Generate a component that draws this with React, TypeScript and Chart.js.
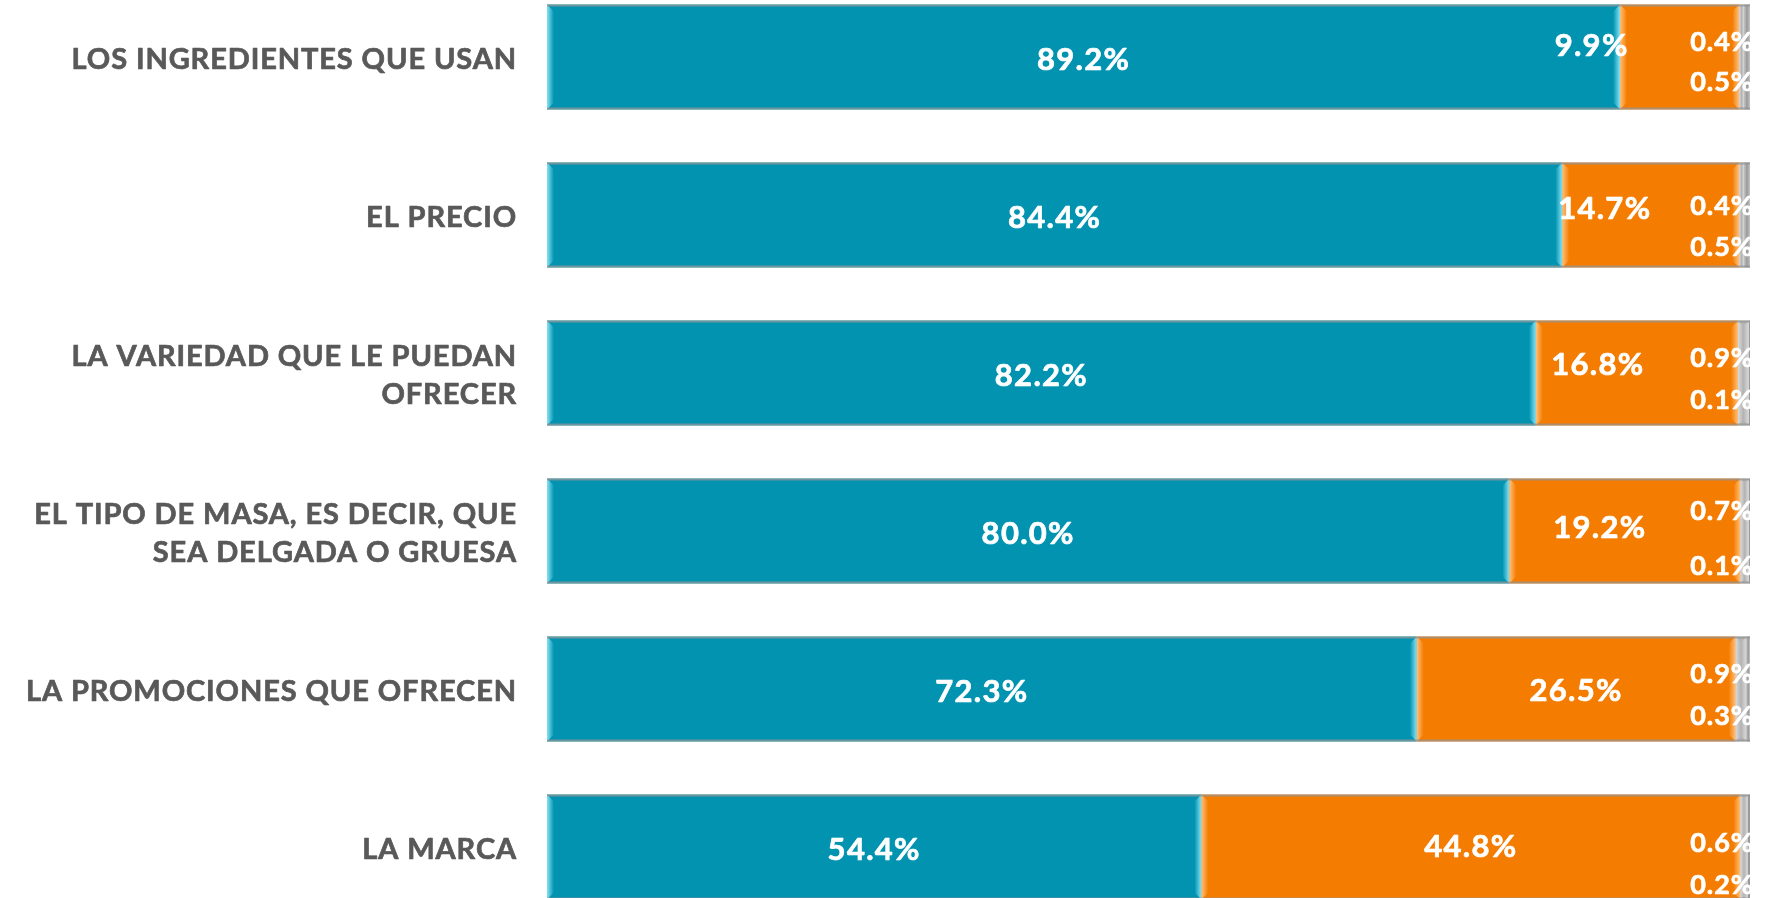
import { useEffect, useRef } from "react";
import { Chart, registerables } from "chart.js";

Chart.register(...registerables);

const categories: string[][] = [
  ["LOS INGREDIENTES QUE USAN"],
  ["EL PRECIO"],
  ["LA VARIEDAD QUE LE PUEDAN", "OFRECER"],
  ["EL TIPO DE MASA, ES DECIR, QUE", "SEA DELGADA O GRUESA"],
  ["LA PROMOCIONES QUE OFRECEN"],
  ["LA MARCA"],
];
const seriesA = [89.2, 84.4, 82.2, 80.0, 72.3, 54.4];
const seriesB = [9.9, 14.7, 16.8, 19.2, 26.5, 44.8];
const seriesC = [0.4, 0.4, 0.9, 0.7, 0.9, 0.6];
const seriesD = [0.5, 0.5, 0.1, 0.1, 0.3, 0.2];

const FONT = '"Lato", "Noto Sans", sans-serif';
const COLORS = ["#0193B0", "#F47C00", "#B3B3B3", "#999999"];
const BEVEL = ["#86E2F5", "#FFC07A", "#DADADA", "#C4C4C4"];
// label nudges (px) for the second series labels
const orangeNudge: [number, number][] = [
  [-88, -11],
  [-46, -6],
  [-39, -8],
  [-25, -3],
  [0, 2],
  [0, 0],
];
// small-series label vertical offsets (px)
const smallUpper = [-15, -9, -15, -20, -15, -4];
const smallLower = [25, 32, 27, 35, 27, 38];

const bevelPlugin = {
  id: "bevel",
  afterDatasetsDraw(chart: any) {
    const ctx = chart.ctx as CanvasRenderingContext2D;
    chart.data.datasets.forEach((_ds: any, di: number) => {
      const meta = chart.getDatasetMeta(di);
      meta.data.forEach((bar: any) => {
        const { x, y, base, height } = bar.getProps(["x", "y", "base", "height"], true);
        const x0 = Math.min(x, base);
        const x1 = Math.max(x, base);
        const top = y - height / 2;
        const bot = y + height / 2;
        const w = Math.min(7, (x1 - x0) / 2);
        if (w < 1.5) return;
        let g = ctx.createLinearGradient(x0, 0, x0 + w, 0);
        g.addColorStop(0, BEVEL[di]);
        g.addColorStop(1, COLORS[di]);
        ctx.fillStyle = g;
        ctx.beginPath();
        ctx.moveTo(x0, top);
        ctx.lineTo(x0 + w, top + w);
        ctx.lineTo(x0 + w, bot - w);
        ctx.lineTo(x0, bot);
        ctx.closePath();
        ctx.fill();
        g = ctx.createLinearGradient(x1, 0, x1 - w, 0);
        g.addColorStop(0, BEVEL[di]);
        g.addColorStop(1, COLORS[di]);
        ctx.fillStyle = g;
        ctx.beginPath();
        ctx.moveTo(x1, top);
        ctx.lineTo(x1 - w, top + w);
        ctx.lineTo(x1 - w, bot - w);
        ctx.lineTo(x1, bot);
        ctx.closePath();
        ctx.fill();
      });
    });
    const meta0 = chart.getDatasetMeta(0);
    const lastMeta = chart.getDatasetMeta(chart.data.datasets.length - 1);
    meta0.data.forEach((bar: any, i: number) => {
      const { y, base, height } = bar.getProps(["y", "base", "height"], true);
      const end = lastMeta.data[i].getProps(["x"], true).x;
      ctx.save();
      ctx.strokeStyle = "rgba(150,150,150,0.75)";
      ctx.lineWidth = 2;
      ctx.beginPath();
      ctx.moveTo(base, y - height / 2 + 1);
      ctx.lineTo(end, y - height / 2 + 1);
      ctx.moveTo(base, y + height / 2 - 1);
      ctx.lineTo(end, y + height / 2 - 1);
      ctx.stroke();
      ctx.restore();
    });
  },
};

function boldText(ctx: CanvasRenderingContext2D, text: string, x: number, y: number) {
  ctx.fillText(text, x, y);
  ctx.strokeText(text, x, y);
}

const labelPlugin = {
  id: "valueLabels",
  afterDatasetsDraw(chart: any) {
    const ctx = chart.ctx as CanvasRenderingContext2D;
    const area = chart.chartArea;
    const yScale = chart.scales.y;
    ctx.save();
    ctx.fillStyle = "#595959";
    ctx.strokeStyle = "#595959";
    ctx.lineWidth = 0.7;
    ctx.lineJoin = "round";
    ctx.font = `bold 29px ${FONT}`;
    (ctx as any).letterSpacing = "0.9px";
    ctx.textAlign = "right";
    ctx.textBaseline = "middle";
    categories.forEach((lines, i) => {
      const cy = yScale.getPixelForValue(i) + 3;
      const lh = 38;
      const start = cy - ((lines.length - 1) * lh) / 2;
      lines.forEach((ln, k) => {
        boldText(ctx, ln, area.left - 30, start + k * lh);
      });
    });
    ctx.restore();

    ctx.save();
    ctx.beginPath();
    ctx.rect(area.left, area.top, area.right - area.left + 1, area.bottom - area.top);
    ctx.clip();
    ctx.fillStyle = "#ffffff";
    ctx.strokeStyle = "#ffffff";
    ctx.lineWidth = 0.7;
    ctx.lineJoin = "round";
    ctx.textBaseline = "middle";
    chart.data.datasets.forEach((ds: any, di: number) => {
      const meta = chart.getDatasetMeta(di);
      meta.data.forEach((bar: any, i: number) => {
        const v = ds.data[i] as number;
        const text = v.toFixed(1) + "%";
        const { x, y, base } = bar.getProps(["x", "y", "base"], true);
        if (di < 2) {
          ctx.font = `bold 31px ${FONT}`;
          (ctx as any).letterSpacing = "1.3px";
          ctx.textAlign = "center";
          const n = di === 1 ? orangeNudge[i] : [0, 3];
          boldText(ctx, text, (x + base) / 2 + n[0], y + n[1]);
        } else {
          ctx.font = `bold 27px ${FONT}`;
          (ctx as any).letterSpacing = "1px";
          ctx.textAlign = "right";
          const dy = di === 2 ? smallUpper[i] : smallLower[i];
          boldText(ctx, text, area.right + 4, y + dy);
        }
      });
    });
    ctx.restore();
  },
};

export default function App() {
  const ref = useRef<HTMLCanvasElement | null>(null);
  useEffect(() => {
    if (!ref.current) return;
    const chart = new Chart(ref.current, {
      type: "bar",
      data: {
        labels: categories.map((c) => c.join(" ")),
        datasets: [seriesA, seriesB, seriesC, seriesD].map((d, i) => ({
          label: "S" + (i + 1),
          data: d,
          backgroundColor: COLORS[i],
          borderWidth: 0,
          barPercentage: 0.665,
          categoryPercentage: 1,
        })),
      },
      options: {
        indexAxis: "y",
        responsive: false,
        maintainAspectRatio: false,
        animation: false,
        layout: { padding: { left: 0, right: 16, top: 0, bottom: 0 } },
        plugins: { legend: { display: false }, tooltip: { enabled: false } },
        scales: {
          x: { stacked: true, min: 0, max: 100, display: false },
          y: {
            stacked: true,
            grid: { display: false, drawTicks: false },
            border: { display: false },
            ticks: { display: false },
            afterFit(scale: any) {
              scale.width = 547;
            },
          },
        },
      },
      plugins: [bevelPlugin, labelPlugin],
    });
    return () => chart.destroy();
  }, []);
  return (
    <div style={{ position: "fixed", left: 0, top: -22, width: 1766, height: 948, background: "#fff" }}>
      <canvas ref={ref} width={1766} height={948} style={{ display: "block" }} />
    </div>
  );
}
